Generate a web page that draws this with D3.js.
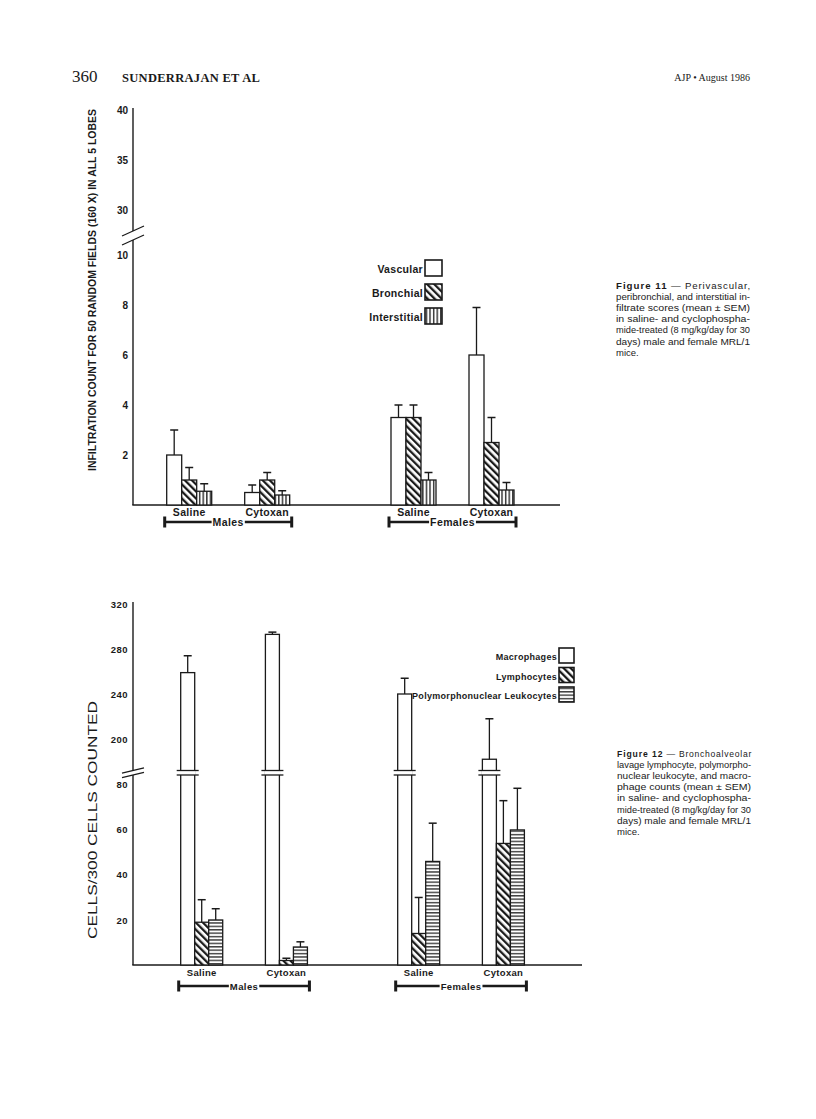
<!DOCTYPE html>
<html>
<head>
<meta charset="utf-8">
<script src="https://cdn.jsdelivr.net/npm/d3@7"></script>
<style>
  body { margin: 0; background: #fff; }
  svg { display: block; }
</style>
</head>
<body>
<div id="page"></div>
<script>
const sexes = ["Males", "Females"]
const treatments = ["Saline", "Cytoxan"]

// Figure 11 - values in order: male saline, male cytoxan, female saline, female cytoxan
const fig11Series = ["Vascular", "Bronchial", "Interstitial"]
const vascularMean = [2.0, 0.5, 3.5, 6.0]
const vascularSem = [1.0, 0.3, 0.5, 1.9]
const bronchialMean = [1.0, 1.0, 3.5, 2.5]
const bronchialSem = [0.5, 0.3, 0.5, 1.0]
const interstitialMean = [0.55, 0.4, 1.0, 0.6]
const interstitialSem = [0.3, 0.17, 0.3, 0.3]
const fig11LowTicks = [2, 4, 6, 8, 10]
const fig11HighTicks = [30, 35, 40]

// Figure 12
const fig12Series = ["Macrophages", "Lymphocytes", "Polymorphonuclear Leukocytes"]
const macrophageMean = [259, 293, 240, 182]
const macrophageSem = [15, 2, 14, 36]
const lymphocyteMean = [19, 2, 14, 54]
const lymphocyteSem = [10, 1, 16, 19]
const pmnMean = [20, 8, 46, 60]
const pmnSem = [5, 2.3, 17, 18.5]
const fig12LowTicks = [20, 40, 60, 80]
const fig12HighTicks = [200, 240, 280, 320]

const fig11Caption = [
    "peribronchial, and interstitial in-",
    "filtrate scores (mean \u00b1 SEM)",
    "in saline- and cyclophospha-",
    "mide-treated (8 mg/kg/day for 30",
    "days) male and female MRL/1",
    "mice."
]
const fig12Caption = [
    "lavage lymphocyte, polymorpho-",
    "nuclear leukocyte, and macro-",
    "phage counts (mean \u00b1 SEM)",
    "in saline- and cyclophospha-",
    "mide-treated (8 mg/kg/day for 30",
    "days) male and female MRL/1",
    "mice."
]

const sans = "'Liberation Sans', Arial, Helvetica, sans-serif"
const serif = "'Liberation Serif', 'Times New Roman', serif"
const ink = "#1a1a1a"

let svg = d3.select("#page")
    .append("svg")
    .attr("width", 816)
    .attr("height", 1119)

svg.append("rect").attr("width", 816).attr("height", 1119).attr("fill", "#fff")

// fill patterns
let defs = svg.append("defs")
let diag = defs.append("pattern").attr("id", "diag")
    .attr("patternUnits", "userSpaceOnUse")
    .attr("width", 5).attr("height", 5)
    .attr("patternTransform", "rotate(-45)")
diag.append("rect").attr("width", 5).attr("height", 5).attr("fill", "#fff")
diag.append("rect").attr("width", 2.3).attr("height", 5).attr("fill", ink)

let vert = defs.append("pattern").attr("id", "vert")
    .attr("patternUnits", "userSpaceOnUse")
    .attr("width", 3.6).attr("height", 4)
vert.append("rect").attr("width", 3.6).attr("height", 4).attr("fill", "#fff")
vert.append("rect").attr("x", 1).attr("width", 1.3).attr("height", 4).attr("fill", ink)

let horiz = defs.append("pattern").attr("id", "horiz")
    .attr("patternUnits", "userSpaceOnUse")
    .attr("width", 4).attr("height", 3.4)
horiz.append("rect").attr("width", 4).attr("height", 3.4).attr("fill", "#fff")
horiz.append("rect").attr("y", 1).attr("width", 4).attr("height", 1.2).attr("fill", ink)

// page header
svg.append("text").attr("x", 72).attr("y", 82)
    .attr("font-family", serif).attr("font-size", 17).attr("fill", ink)
    .text("360")
svg.append("text").attr("x", 122).attr("y", 82)
    .attr("font-family", serif).attr("font-size", 12.5).attr("font-weight", "bold")
    .attr("fill", ink).attr("letter-spacing", 0.3)
    .text("SUNDERRAJAN ET AL")
svg.append("text").attr("x", 750).attr("y", 81)
    .attr("font-family", serif).attr("font-size", 10).attr("fill", ink)
    .attr("text-anchor", "end")
    .text("AJP \u2022 August 1986")

function drawPanel(opt) {
    let g = svg.append("g")

    let yLow = d3.scaleLinear().domain(opt.lowDomain).range(opt.lowRange)
    let yHigh = d3.scaleLinear().domain(opt.highDomain).range(opt.highRange)
    let y = (v) => v <= opt.lowDomain[1] ? yLow(v) : yHigh(Math.max(v, opt.highDomain[0]))
    let base = yLow(0)

    let x0 = d3.scaleBand().domain(sexes).range(opt.xRange).paddingInner(opt.sexPad)
    let x1 = d3.scaleBand().domain(treatments).range([0, x0.bandwidth()]).paddingInner(opt.treatPad)
    let x2 = d3.scaleBand().domain(opt.series).range([0, x1.bandwidth()])

    let rows = []
    sexes.forEach((s, i) => treatments.forEach((t, j) => {
        opt.series.forEach((name, k) => rows.push({
            sex: s, treat: t, series: name,
            mean: opt.means[k][i * 2 + j],
            sem: opt.sems[k][i * 2 + j],
            fill: opt.fills[k]
        }))
    }))
    let bx = (d) => x0(d.sex) + x1(d.treat) + x2(d.series)
    let bw = x2.bandwidth()

    // axis lines (broken)
    let ax = opt.axisX
    g.append("line").attr("x1", ax).attr("x2", ax)
        .attr("y1", yLow.range()[0]).attr("y2", yLow.range()[1])
        .attr("stroke", ink).attr("stroke-width", 1.4)
    g.append("line").attr("x1", ax).attr("x2", ax)
        .attr("y1", yHigh.range()[0]).attr("y2", yHigh.range()[1] - 2)
        .attr("stroke", ink).attr("stroke-width", 1.4)
    g.append("line").attr("x1", ax - 0.7).attr("x2", opt.baseEnd)
        .attr("y1", base).attr("y2", base)
        .attr("stroke", ink).attr("stroke-width", 1.4)

    // break marks on the axis
    ;[yHigh.range()[0], yLow.range()[1]].forEach((cy) => {
        g.append("line")
            .attr("x1", ax - 11).attr("y1", cy + opt.breakSlope)
            .attr("x2", ax + 11).attr("y2", cy - opt.breakSlope)
            .attr("stroke", ink).attr("stroke-width", 1.3)
    })

    // tick labels
    ;[[yLow, opt.lowTicks], [yHigh, opt.highTicks]].forEach(([sc, ticks]) => {
        let a = g.append("g")
            .attr("transform", "translate(" + (ax - 2) + ",0)")
            .call(d3.axisLeft(sc).tickValues(ticks).tickSize(0).tickPadding(3))
        a.select(".domain").remove()
        a.selectAll("text")
            .attr("font-family", sans).attr("font-weight", "bold")
            .attr("font-size", opt.tickSize).attr("fill", ink)
            .attr("letter-spacing", opt.tickSpacing)
    })

    // bars
    let bars = g.append("g").selectAll("g").data(rows).enter().append("g")
    bars.append("rect")
        .attr("x", bx)
        .attr("y", (d) => y(d.mean))
        .attr("width", bw)
        .attr("height", (d) => base - y(d.mean))
        .attr("fill", (d) => d.fill)
        .attr("stroke", ink)
        .attr("stroke-width", 1.3)

    // break across tall bars
    let tall = bars.filter((d) => d.mean > opt.lowDomain[1])
    tall.append("rect")
        .attr("x", (d) => bx(d) - 1)
        .attr("y", yHigh.range()[0])
        .attr("width", bw + 2)
        .attr("height", yLow.range()[1] - yHigh.range()[0])
        .attr("fill", "#fff")
    ;[yHigh.range()[0], yLow.range()[1]].forEach((ly) => {
        tall.append("line")
            .attr("x1", (d) => bx(d) - 4).attr("x2", (d) => bx(d) + bw + 4)
            .attr("y1", ly).attr("y2", ly)
            .attr("stroke", ink).attr("stroke-width", 1.3)
    })

    // error bars
    bars.append("line")
        .attr("x1", (d) => bx(d) + bw / 2).attr("x2", (d) => bx(d) + bw / 2)
        .attr("y1", (d) => y(d.mean)).attr("y2", (d) => y(d.mean + d.sem))
        .attr("stroke", ink).attr("stroke-width", 1.3)
    bars.append("line")
        .attr("x1", (d) => bx(d) + bw / 2 - 4).attr("x2", (d) => bx(d) + bw / 2 + 4)
        .attr("y1", (d) => y(d.mean + d.sem)).attr("y2", (d) => y(d.mean + d.sem))
        .attr("stroke", ink).attr("stroke-width", 1.5)

    // treatment labels
    sexes.forEach((s) => treatments.forEach((t) => {
        g.append("text")
            .attr("x", x0(s) + x1(t) + x1.bandwidth() / 2)
            .attr("y", opt.labelY)
            .attr("text-anchor", "middle")
            .attr("font-family", sans).attr("font-weight", "bold")
            .attr("font-size", opt.labelSize).attr("letter-spacing", 0.3)
            .attr("fill", ink)
            .text(t)
    }))

    // sex brackets
    sexes.forEach((s) => {
        let left = x0(s) - 2
        let right = x0(s) + x0.bandwidth() + 2
        let by = opt.bracketY
        g.append("line").attr("x1", left).attr("x2", right)
            .attr("y1", by).attr("y2", by)
            .attr("stroke", ink).attr("stroke-width", 2.4)
        ;[left, right].forEach((ex) => {
            g.append("rect").attr("x", ex - 1.5).attr("y", by - 5.5)
                .attr("width", 3).attr("height", 11).attr("fill", ink)
        })
        let lbl = g.append("text")
            .attr("x", (left + right) / 2).attr("y", by + 3.5)
            .attr("text-anchor", "middle")
            .attr("font-family", sans).attr("font-weight", "bold")
            .attr("font-size", opt.labelSize).attr("letter-spacing", 0.4)
            .attr("fill", ink)
            .text(s)
        let w = lbl.node().getComputedTextLength()
        g.append("rect")
            .attr("x", (left + right) / 2 - w / 2 - 1).attr("y", by - 3)
            .attr("width", w + 2).attr("height", 6).attr("fill", "#fff")
        lbl.raise()
    })

    // legend
    opt.series.forEach((name, k) => {
        let ly = opt.legendY + k * opt.legendStep
        g.append("rect")
            .attr("x", opt.legendX).attr("y", ly)
            .attr("width", opt.legendBox[0]).attr("height", opt.legendBox[1])
            .attr("fill", opt.fills[k]).attr("stroke", ink).attr("stroke-width", 1.6)
        g.append("text")
            .attr("x", opt.legendX - 2).attr("y", ly + opt.legendBox[1] - 3)
            .attr("text-anchor", "end")
            .attr("font-family", sans).attr("font-weight", "bold")
            .attr("font-size", opt.legendSize).attr("letter-spacing", 0.3)
            .attr("fill", ink)
            .text(name)
    })

    // y title
    g.append("text")
        .attr("transform", "translate(" + opt.titleX + "," + opt.titleY + ") rotate(-90)")
        .attr("text-anchor", "middle")
        .attr("font-family", sans).attr("font-weight", opt.titleWeight)
        .attr("font-size", opt.titleSize)
        .attr("textLength", opt.titleLength).attr("lengthAdjust", "spacingAndGlyphs")
        .attr("fill", ink)
        .text(opt.title)
}

drawPanel({
    series: fig11Series,
    means: [vascularMean, bronchialMean, interstitialMean],
    sems: [vascularSem, bronchialSem, interstitialSem],
    fills: ["#fff", "url(#diag)", "url(#vert)"],
    lowDomain: [0, 10.6], lowRange: [505, 240],
    highDomain: [27.9, 40], highRange: [231, 110],
    lowTicks: fig11LowTicks, highTicks: fig11HighTicks,
    tickSize: 10, tickSpacing: 0,
    xRange: [166.7, 514], sexPad: 0.4516, treatPad: 0.4231,
    axisX: 133, baseEnd: 560, breakSlope: 5,
    labelY: 516, labelSize: 10.5, bracketY: 522,
    legendX: 425, legendY: 260, legendStep: 24, legendBox: [17, 16], legendSize: 10.5,
    title: "INFILTRATION COUNT FOR 50 RANDOM FIELDS (160 X) IN ALL 5 LOBES",
    titleX: 96, titleY: 290, titleSize: 10.5, titleWeight: "bold", titleLength: 362
})

drawPanel({
    series: fig12Series,
    means: [macrophageMean, lymphocyteMean, pmnMean],
    sems: [macrophageSem, lymphocyteSem, pmnSem],
    fills: ["#fff", "url(#diag)", "url(#horiz)"],
    lowDomain: [0, 84.4], lowRange: [965, 775],
    highDomain: [172, 320], highRange: [770.5, 604],
    lowTicks: fig12LowTicks, highTicks: fig12HighTicks,
    tickSize: 9.5, tickSpacing: 0.5,
    xRange: [180.7, 524.4], sexPad: 0.416, treatPad: 0.504,
    axisX: 133, baseEnd: 582, breakSlope: 2.7,
    labelY: 976, labelSize: 9.5, bracketY: 986,
    legendX: 559, legendY: 648, legendStep: 19.5, legendBox: [15, 15], legendSize: 9,
    title: "CELLS/300 CELLS COUNTED",
    titleX: 97, titleY: 820, titleSize: 13.5, titleWeight: "normal", titleLength: 238
})

// figure captions
function drawCaption(label, head, lines, x, y0) {
    let step = 11.1
    let first = svg.append("text").attr("x", x).attr("y", y0)
        .attr("font-family", sans).attr("font-size", 9.5).attr("fill", ink)
        .attr("textLength", 135).attr("lengthAdjust", "spacingAndGlyphs")
    first.append("tspan").attr("font-weight", "bold").attr("letter-spacing", 1).text(label)
    first.append("tspan").attr("letter-spacing", 0.8).text(" \u2014 " + head)
    lines.forEach((ln, i) => {
        let t = svg.append("text").attr("x", x).attr("y", y0 + (i + 1) * step)
            .attr("font-family", sans).attr("font-size", 9.5).attr("fill", ink)
            .text(ln)
        if (i < lines.length - 1) t.attr("textLength", 134).attr("lengthAdjust", "spacingAndGlyphs")
    })
}
drawCaption("Figure 11", "Perivascular,", fig11Caption, 616, 289)
drawCaption("Figure 12", "Bronchoalveolar", fig12Caption, 617, 757)
</script>
</body>
</html>
